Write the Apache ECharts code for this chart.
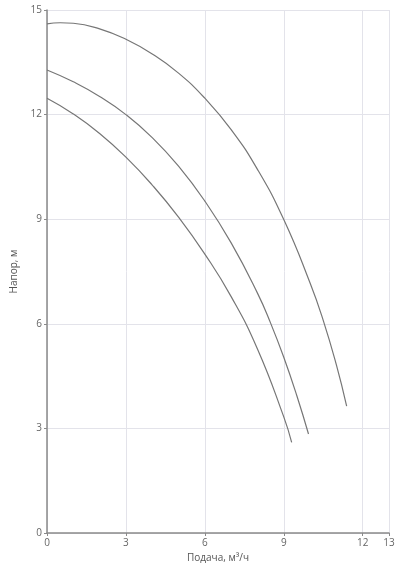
<!DOCTYPE html>
<html>
<head>
<meta charset="utf-8">
<script src="https://cdn.jsdelivr.net/npm/echarts@6/dist/echarts.min.js"></script>
<style>
html,body{margin:0;padding:0;background:#fff;}
#c{width:397px;height:564px;}
</style>
</head>
<body>
<div id="c"></div>
<script>
// Curve A (top)
const flowA = [0, 0.5, 1, 2, 3, 4, 5, 6, 7, 8, 9, 10, 10.5, 11, 11.39];
const headA = [14.60, 14.635, 14.62, 14.46, 14.16, 13.74, 13.19, 12.47, 11.57, 10.43, 8.99, 7.17, 6.10, 4.82, 3.64];
// Curve B (middle)
const flowB = [0, 1, 2, 3, 4, 5, 6, 7, 8, 8.5, 9, 9.5, 9.94];
const headB = [13.28, 12.94, 12.52, 12.00, 11.34, 10.52, 9.52, 8.32, 6.88, 6.02, 5.04, 3.93, 2.84];
// Curve C (bottom)
const flowC = [0, 1, 2, 3, 4, 5, 6, 7, 8, 9, 9.3];
const headC = [12.47, 12.02, 11.46, 10.78, 9.98, 9.06, 8.00, 6.78, 5.28, 3.33, 2.60];

const xName = 'Подача, м³/ч';
const yName = 'Напор, м';

function pairs(xs, ys){ return xs.map((x,i)=>[x, ys[i]]); }

const chart = echarts.init(document.getElementById('c'), null, {renderer:'canvas'});
const lineStyle = {color:'#767676', width:1.2};
const font = "'Open Sans', sans-serif";
chart.setOption({
  animation:false,
  grid:{left:47, right:8, top:10, bottom:31, containLabel:false, outerBoundsMode:'none'},
  xAxis:{
    type:'value', min:0, max:13, interval:3,
    name:xName, nameLocation:'middle', nameGap:14,
    nameTextStyle:{color:'#555', fontSize:10, fontFamily:font},
    axisLine:{show:true, lineStyle:{color:'#8a8a8a', width:1.5}},
    axisTick:{show:true, length:3, lineStyle:{color:'#8a8a8a'}},
    axisLabel:{color:'#666', fontSize:10, fontFamily:font, margin:5},
    splitLine:{show:true, lineStyle:{color:'#e3e3ea', width:1}}
  },
  yAxis:{
    type:'value', min:0, max:15, interval:3,
    name:yName, nameLocation:'middle', nameGap:28, nameRotate:90,
    nameTextStyle:{color:'#555', fontSize:10, fontFamily:font},
    axisLine:{show:true, lineStyle:{color:'#8a8a8a', width:1.5}},
    axisTick:{show:true, length:3, lineStyle:{color:'#8a8a8a'}},
    axisLabel:{color:'#666', fontSize:10, fontFamily:font, margin:5, padding:[0,0,4,0]},
    splitLine:{show:true, lineStyle:{color:'#e3e3ea', width:1}}
  },
  series:[
    {type:'line', data:pairs(flowA, headA), smooth:0.5, showSymbol:false, lineStyle:lineStyle},
    {type:'line', data:pairs(flowB, headB), smooth:0.5, showSymbol:false, lineStyle:lineStyle},
    {type:'line', data:pairs(flowC, headC), smooth:0.5, showSymbol:false, lineStyle:lineStyle}
  ]
});
</script>
</body>
</html>
